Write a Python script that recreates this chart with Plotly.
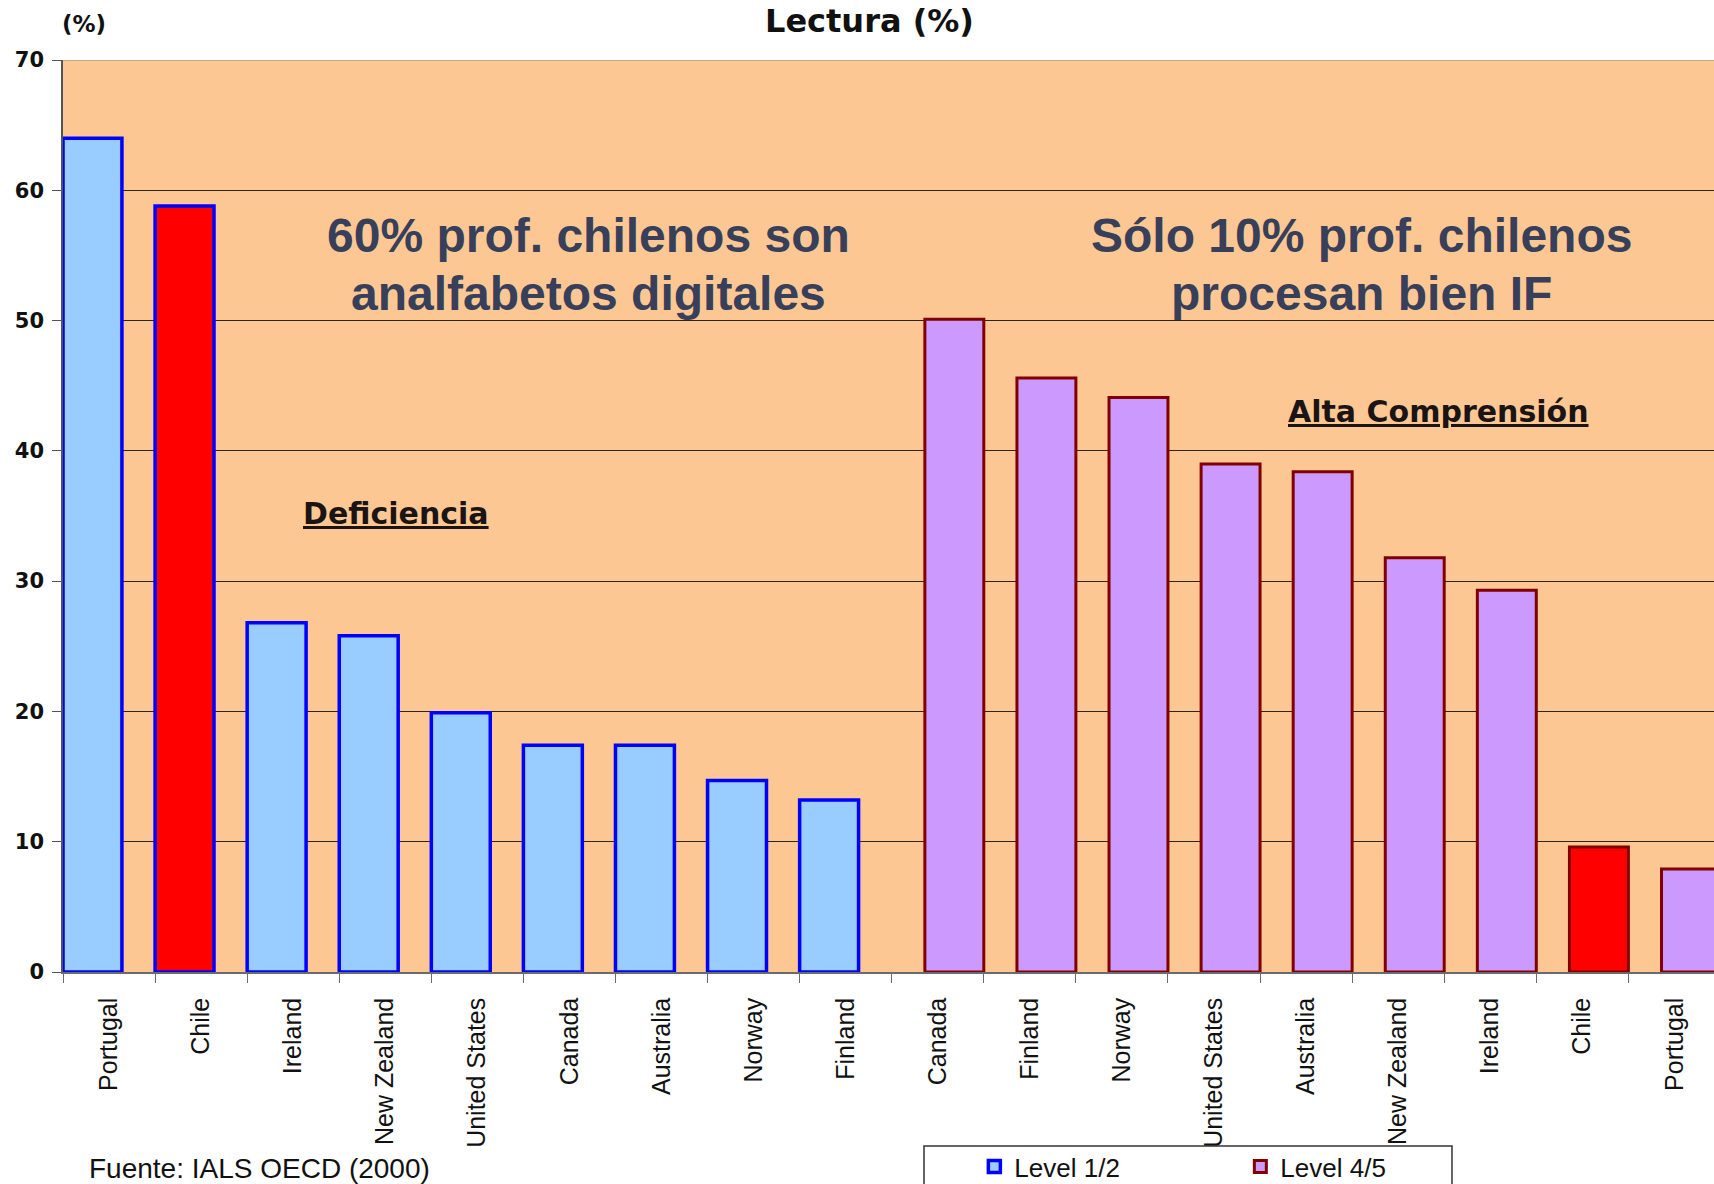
import plotly.graph_objects as go

# Datos (IALS OECD 2000, Lectura %)
left_countries = ["Portugal", "Chile", "Ireland", "New Zealand", "United States",
                  "Canada", "Australia", "Norway", "Finland"]
level_12 = [64.0, 58.8, 26.8, 25.8, 19.9, 17.4, 17.4, 14.7, 13.2]

right_countries = ["Canada", "Finland", "Norway", "United States", "Australia",
                   "New Zealand", "Ireland", "Chile", "Portugal"]
level_45 = [50.1, 45.6, 44.1, 39.0, 38.4, 31.8, 29.3, 9.6, 7.9]

y_ticks = [0, 10, 20, 30, 40, 50, 60, 70]

# Colores
BG = "#FCC792"
BLUE_FILL = "#99CCFF"
BLUE_LINE = "#0000FF"
PURPLE_FILL = "#CC99FF"
PURPLE_LINE = "#800000"
RED = "#FF0000"
TEXT_BIG = "#373F5A"

W, H = 1714, 1184
L, T, B = 63, 60, 212

all_labels = left_countries + right_countries
x_left = list(range(len(left_countries)))
x_right = list(range(len(left_countries), len(all_labels)))

fig = go.Figure()

# Level 1/2 (barras alineadas a la izquierda de cada categoría)
fig.add_trace(go.Bar(
    x=x_left,
    y=level_12,
    name="Level 1/2",
    width=0.64,
    offset=-0.5,
    marker=dict(
        color=[RED if c == "Chile" else BLUE_FILL for c in left_countries],
        line=dict(color=BLUE_LINE, width=3.5),
    ),
))

# Level 4/5 (barras alineadas a la derecha de cada categoría)
fig.add_trace(go.Bar(
    x=x_right,
    y=level_45,
    name="Level 4/5",
    width=0.64,
    offset=-0.14,
    marker=dict(
        color=[RED if c == "Chile" else PURPLE_FILL for c in right_countries],
        line=dict(color=PURPLE_LINE, width=3),
    ),
))

n = len(all_labels)
fig.update_xaxes(
    range=[-0.5, n - 0.57],
    automargin=False,
    tickmode="array",
    tickvals=list(range(n)),
    ticktext=all_labels,
    tickangle=-90,
    ticks="",
    ticklabelstandoff=14,
    tickfont=dict(family="Liberation Sans, Arial", size=25, color="#111"),
    showline=True,
    linecolor="#6b6b6b",
    linewidth=1.5,
    showgrid=False,
    zeroline=False,
    minor=dict(
        tickmode="array",
        tickvals=[i - 0.5 for i in range(n + 1)],
        ticks="outside",
        ticklen=9,
        tickcolor="#6b6b6b",
        showgrid=False,
    ),
)

fig.update_yaxes(
    range=[0, 70],
    automargin=False,
    tickmode="array",
    tickvals=y_ticks,
    ticks="outside",
    ticklen=9,
    tickcolor="#555",
    ticklabelstandoff=4,
    tickfont=dict(family="DejaVu Sans", size=21, color="#111", weight="bold"),
    showline=True,
    linecolor="#555",
    linewidth=1.5,
    showgrid=True,
    gridcolor="#2e2418",
    gridwidth=1,
    zeroline=False,
)

big_font = dict(family="Liberation Sans, Arial", size=48, color=TEXT_BIG, weight="bold")
label_font = dict(family="DejaVu Sans", size=30, color="#1a1414", weight="bold")

annotations = [
    dict(text="Lectura (%)", x=0.4882, y=1.0428, xref="paper", yref="paper",
         font=dict(family="DejaVu Sans", size=32, color="#111", weight="bold")),
    dict(text="(%)", x=0.0127, y=1.0395, xref="paper", yref="paper",
         font=dict(family="DejaVu Sans", size=23, color="#111", weight="bold")),
    dict(text="60% prof. chilenos son", x=5.21, y=56.5, xref="x", yref="y", font=big_font),
    dict(text="analfabetos digitales", x=5.21, y=52.1, xref="x", yref="y", font=big_font),
    dict(text="Sólo 10% prof. chilenos", x=13.6, y=56.5, xref="x", yref="y", font=big_font),
    dict(text="procesan bien IF", x=13.6, y=52.1, xref="x", yref="y", font=big_font),
    dict(text="<u>Deficiencia</u>", x=3.12, y=35.2, xref="x", yref="y", font=label_font),
    dict(text="<u>Alta Comprensión</u>", x=14.44, y=43.0, xref="x", yref="y", font=label_font),
    dict(text="Fuente: IALS OECD (2000)", x=0.0145, y=-0.2155, xref="paper", yref="paper",
         xanchor="left",
         font=dict(family="Liberation Sans Narrow, Liberation Sans, Arial", size=28, color="#111")),
]
for a in annotations:
    a.setdefault("xanchor", "center")
    a.setdefault("yanchor", "middle")
    a["showarrow"] = False
fig.update_layout(annotations=annotations)

# línea superior clara y marco de la leyenda
fig.add_shape(type="line", xref="paper", yref="y", x0=0, x1=1, y0=70, y1=70,
              line=dict(color="#c9a880", width=2), layer="above")
fig.add_shape(type="rect", xref="paper", yref="paper", x0=0.5215, x1=0.8413,
              y0=-0.1908, y1=-0.27, line=dict(color="#333", width=1.5))

fig.update_layout(
    width=W,
    height=H,
    margin=dict(l=L, r=0, t=T, b=B),
    paper_bgcolor="white",
    plot_bgcolor=BG,
    barmode="overlay",
    showlegend=True,
    legend=dict(
        orientation="h",
        x=0.552,
        xanchor="left",
        yref="container",
        y=0.0345,
        yanchor="top",
        entrywidth=221,
        entrywidthmode="pixels",
        font=dict(family="Liberation Sans, Arial", size=26, color="#111"),
        bgcolor="rgba(0,0,0,0)",
    ),
)

# quitar el margen por defecto del body para que la figura ocupe la ventana
fig.write_html("out.html", config={"displayModeBar": False},
               post_script="document.body.style.margin='0';document.body.style.overflow='hidden';")
